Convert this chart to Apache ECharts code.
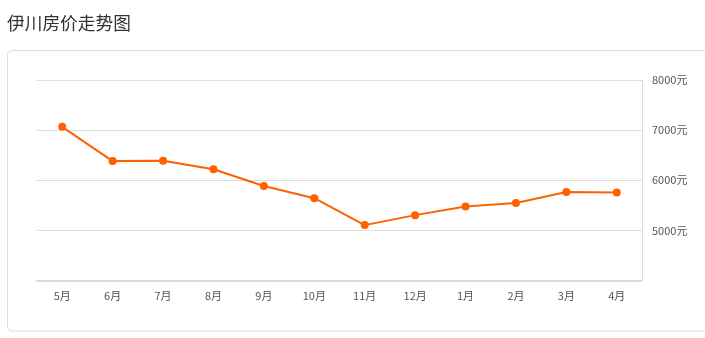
<!DOCTYPE html>
<html><head><meta charset="utf-8">
<script src="https://cdn.jsdelivr.net/npm/echarts@6/dist/echarts.min.js"></script>
<style>html,body{margin:0;padding:0;background:#fff}#c{width:705px;height:338px}</style>
</head><body><div id="c"></div>
<script>
var titleText = '伊川房价走势图';
var months = ['5月','6月','7月','8月','9月','10月','11月','12月','1月','2月','3月','4月'];
var prices = [7066, 6383, 6391, 6218, 5884, 5642, 5105, 5304, 5477, 5548, 5767, 5755];
var yMin = 4000, yMax = 8000, yStep = 1000;
var unit = '元';

var chart = echarts.init(document.getElementById('c'), null, {renderer: 'canvas'});
var font = '"Noto Sans CJK SC", "Microsoft YaHei", sans-serif';
chart.setOption({
  animation: false,
  title: {text: titleText, left: 2, top: 9, textStyle: {fontSize: 17.7, fontWeight: 'normal', color: '#333', fontFamily: font}},
  graphic: [{type: 'rect', shape: {x: 7.5, y: 50.5, width: 720, height: 280.5, r: 4}, style: {fill: 'none', stroke: '#ddd', lineWidth: 1}, silent: true}],
  grid: {left: 37, right: 63, top: 80, bottom: 57.5},
  xAxis: {
    type: 'category', data: months, boundaryGap: true,
    axisLine: {lineStyle: {color: '#ddd', width: 2}},
    axisTick: {alignWithLabel: true, length: 4, lineStyle: {color: '#ccc'}},
    axisLabel: {color: '#555', fontSize: 11, margin: 10, fontFamily: font}
  },
  yAxis: {
    type: 'value', position: 'right', min: yMin, max: yMax, interval: yStep,
    axisLine: {show: true, lineStyle: {color: '#ddd'}},
    axisTick: {show: false},
    axisLabel: {color: '#555', fontSize: 11, margin: 10, showMinLabel: false, fontFamily: font, formatter: function(v){return v + unit;}},
    splitLine: {lineStyle: {color: '#ddd'}}
  },
  series: [{
    type: 'line', data: prices, symbol: 'circle', symbolSize: 8,
    lineStyle: {color: '#ff6000', width: 2}, itemStyle: {color: '#ff6000'}
  }]
});
</script></body></html>
